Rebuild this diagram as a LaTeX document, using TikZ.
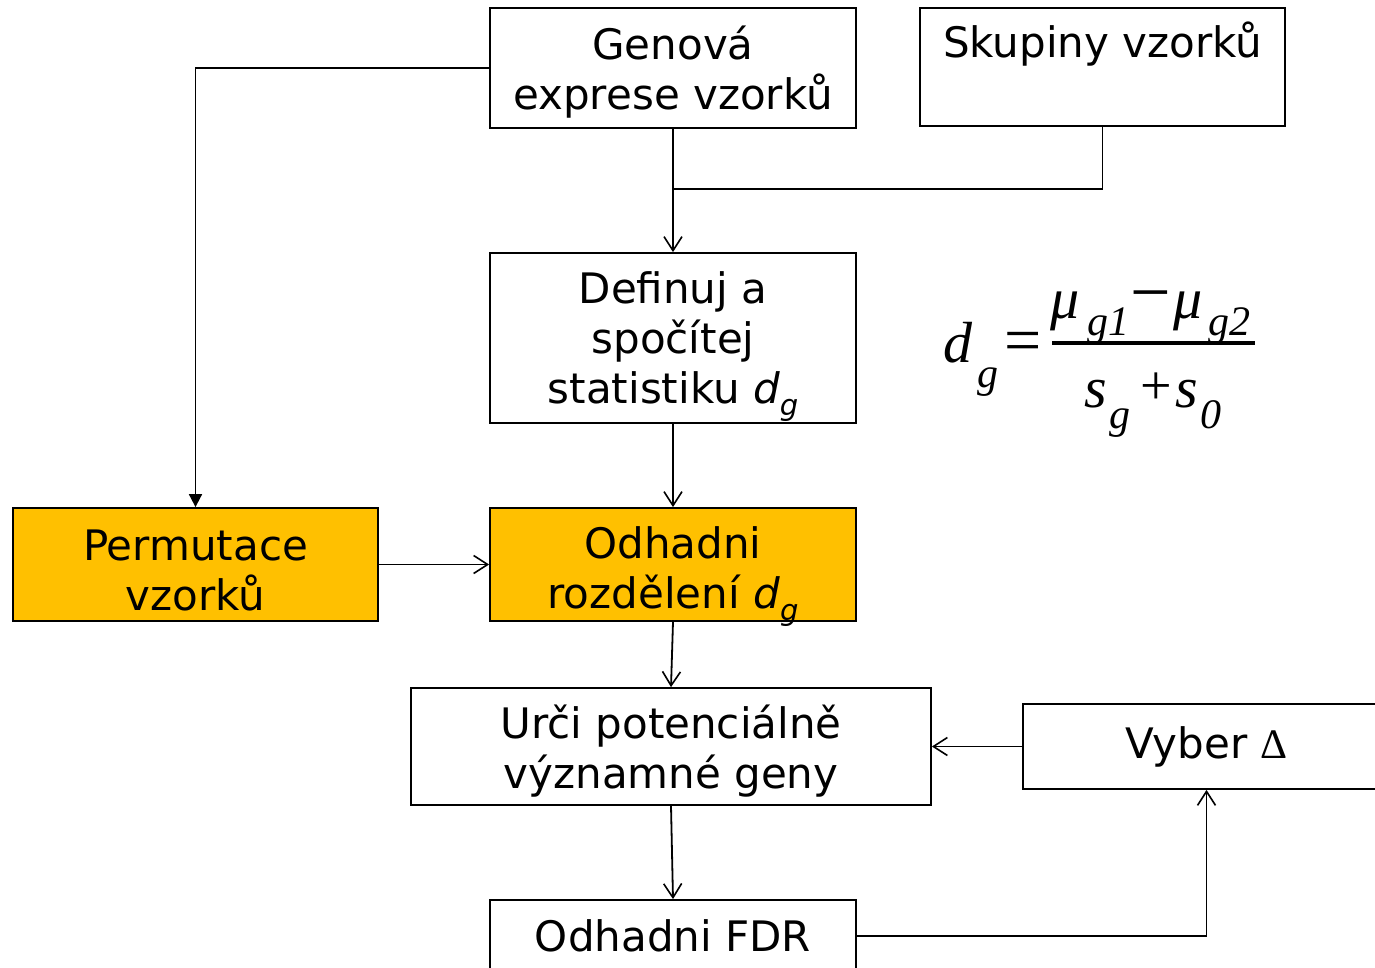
\documentclass[tikz,border=0pt]{standalone}
\usepackage{fontspec}
\setmainfont{DejaVu Sans}
\newfontfamily\tms{Liberation Serif}
\usetikzlibrary{arrows.meta}
\definecolor{boxorange}{HTML}{FFC000}
\newcommand{\sub}[1]{\smash{\raisebox{-0.28em}{\fontsize{29}{29}\selectfont\itshape #1}}}
\newcommand{\up}[1]{\rule{0pt}{#1pt}}
\begin{document}
\begin{tikzpicture}[x=1pt,y=-1pt,
  box/.style={draw, line width=1.8pt, align=center, inner sep=0pt,
    font=\fontsize{42}{50}\selectfont},
  orangebox/.style={box, fill=boxorange},
  conn/.style={line width=1.8pt},
  arr/.style={conn, -{Straight Barb[length=14pt,width=18pt,line width=1.6pt]}},
  farr/.style={conn, -{Triangle[length=13pt,width=13pt]}},
  fm/.style={inner sep=0pt, anchor=base west},
  big/.style={fm, font=\tms\itshape\fontsize{58}{58}\selectfont},
  small/.style={fm, font=\tms\itshape\fontsize{42}{42}\selectfont},
  op/.style={fm, font=\tms\fontsize{56}{56}\selectfont}]
\useasboundingbox (0,0) rectangle (1375,968);

\node[box, minimum width=366pt, minimum height=120pt] (gen) at (673,68) {\up{42}Genová\\exprese vzorků};
\node[box, minimum width=365pt, minimum height=118pt] (sk) at (1102.5,67) {};
\node[inner sep=0pt, anchor=base, font=\fontsize{42}{50}\selectfont] (skt) at (1102.5,58) {Skupiny vzorků};
\node[box, minimum width=366pt, minimum height=170pt] (def) at (673,338) {Definuj a\\spočítej\\statistiku {\itshape d}\sub{g}};
\node[orangebox, minimum width=365pt, minimum height=113pt] (perm) at (195.5,564.5) {\up{42}Permutace\\vzorků};
\node[orangebox, minimum width=366pt, minimum height=113pt] (odh) at (673,564.5) {\up{39}Odhadni\\rozdělení {\itshape d}\sub{g}};
\node[box, minimum width=520pt, minimum height=117pt] (urc) at (671,746.5) {\up{43}Urči potenciálně\\významné geny};
\node[box, minimum width=367pt, minimum height=85pt] (vyb) at (1206.5,746.5) {Vyber {\tms Δ}};
\node[box, minimum width=366pt, minimum height=72pt] (fdr) at (673,936) {Odhadni FDR};

\coordinate (j) at (673,189);
\draw[farr] (gen.west) -| (perm.north);
\draw[arr] (gen.south) -- (def.north);
\draw[conn] (sk.south) |- (j);
\draw[arr] (def.south) -- (odh.north);
\draw[arr] (perm.east) -- (odh.west);
\draw[arr] (odh.south) -- (urc.north);
\draw[arr] (vyb.west) -- (urc.east);
\draw[arr] (urc.south) -- (fdr.north);
\draw[arr] (fdr.east) -| (vyb.south);

% formula
\node[big] (fd) at (943,362) {d};
\node[small] (fdg) at (977,387) {g};
\node[fm, font=\tms\fontsize{66}{66}\selectfont] (feq) at (1004,362) {=};
\node[big] (mu1) at (1050,318) {μ};
\node[small] (s1) at (1087,335) {g1};
\node[fm, font=\tms\fontsize{72}{72}\selectfont] (fmin) at (1130,316) {−};
\node[big] (mu2) at (1173,318) {μ};
\node[small] (s2) at (1208,335) {g2};
\coordinate (barl) at (1052,343);
\coordinate (barr) at (1255,343);
\draw[line width=3.5pt] (barl) -- (barr);
\node[big] (sg) at (1084,407) {s};
\node[small] (sgg) at (1109,428) {g};
\node[op] (fplus) at (1140,404) {+};
\node[big] (s0) at (1175,407) {s};
\node[small] (s00) at (1200,428) {0};
\end{tikzpicture}
\end{document}
